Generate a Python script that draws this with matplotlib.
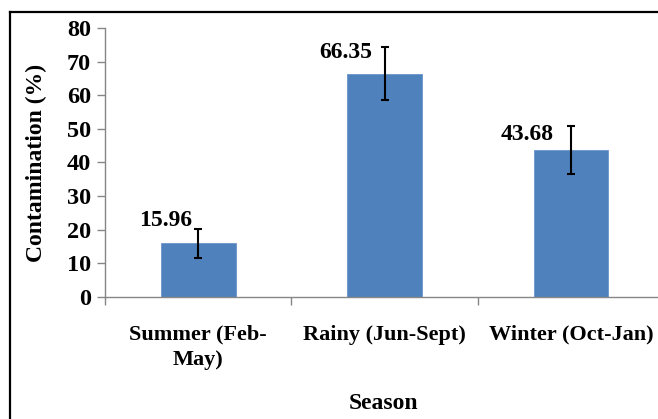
import matplotlib.pyplot as plt
from matplotlib.lines import Line2D

seasons = ['Summer (Feb-\nMay)', 'Rainy (Jun-Sept)', 'Winter (Oct-Jan)']
contamination = [15.96, 66.35, 43.68]
errors = [4.4, 7.9, 7.2]
labels = ['15.96', '66.35', '43.68']

# pixel offsets of each value label from the top of its error bar
label_dx = [-6, -12, -17]
label_dy = [8, -5, -9]

plt.rcParams['font.family'] = ['Liberation Serif', 'DejaVu Serif']
plt.rcParams['font.weight'] = 'bold'

fig = plt.figure(figsize=(6.58, 4.19), dpi=100)
ax = fig.add_axes([0.1596, 0.2912, 0.85, 0.642])

x = list(range(len(seasons)))
ax.bar(x, contamination, width=0.4, color='#4F81BD', edgecolor='#6A95CC', linewidth=0.6, zorder=2)
ax.errorbar(x, contamination, yerr=errors, fmt='none', ecolor='black',
            elinewidth=1.5, capsize=3, capthick=1.5, zorder=3)

for xi, v, e, t, dx, dy in zip(x, contamination, errors, labels, label_dx, label_dy):
    ax.annotate(t, xy=(xi, v + e), xytext=(dx * 0.72, dy * 0.72), textcoords='offset points',
                ha='right', va='center', fontsize=17, fontweight='bold')

ax.set_xlim(-0.5, 2.5)
ax.set_ylim(0, 80)
ax.set_yticks(range(0, 81, 10))
ax.set_xticks(x)
ax.set_xticklabels(seasons, fontsize=16, fontweight='bold', linespacing=1.35)
ax.set_xticks([-0.5, 0.5, 1.5, 2.5], minor=True)
ax.tick_params(axis='x', which='major', length=0, pad=20)
ax.tick_params(axis='x', which='minor', length=6, color='#868686', width=1)
ax.tick_params(axis='y', length=6, color='#868686', width=1, labelsize=17.5, pad=4)
for lab in ax.get_yticklabels():
    lab.set_fontweight('bold')

for side in ['top', 'right']:
    ax.spines[side].set_visible(False)
for side in ['left', 'bottom']:
    ax.spines[side].set_color('#868686')
    ax.spines[side].set_linewidth(1)

ax.set_ylabel('Contamination (%)', fontsize=17, fontweight='bold', labelpad=14)
fig.text(384 / 658, 1 - 403 / 419, 'Season', ha='center', va='center', fontsize=17, fontweight='bold')

# outer frame (top and left edges visible)
fig.add_artist(Line2D([9.5 / 658, 9.5 / 658], [0, 1 - 12 / 419], color='black', lw=1.6))
fig.add_artist(Line2D([9.5 / 658, 1], [1 - 12 / 419, 1 - 12 / 419], color='black', lw=1.6))

fig.savefig('out.png', dpi=100)
